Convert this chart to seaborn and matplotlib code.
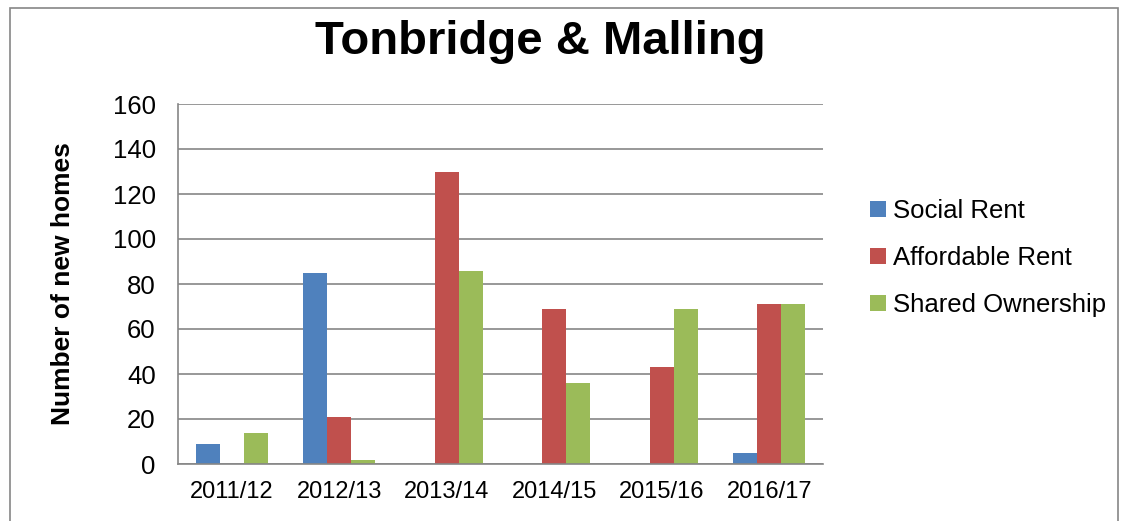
import pandas as pd
import matplotlib
matplotlib.use('Agg')
import matplotlib.pyplot as plt
import seaborn as sns
from matplotlib.patches import Rectangle, Patch

# ── data ─────────────────────────────────────────────────────────────────────
years = ['2011/12', '2012/13', '2013/14', '2014/15', '2015/16', '2016/17']
social_rent = [9, 85, 0, 0, 0, 5]
affordable_rent = [0, 21, 130, 69, 43, 71]
shared_ownership = [14, 2, 86, 36, 69, 71]
series = ['Social Rent', 'Affordable Rent', 'Shared Ownership']
colors = ['#4F81BD', '#C0504D', '#9BBB59']

df = pd.DataFrame({'year': years * 3,
                   'tenure': [s for s in series for _ in years],
                   'homes': social_rent + affordable_rent + shared_ownership})

# ── style ────────────────────────────────────────────────────────────────────
sns.set_style('white')
plt.rcParams['font.family'] = ['Liberation Sans', 'DejaVu Sans']
plt.rcParams['text.color'] = 'black'
plt.rcParams['axes.labelcolor'] = 'black'
plt.rcParams['xtick.color'] = 'black'
plt.rcParams['ytick.color'] = 'black'
grid_col = '#868686'

fig = plt.figure(figsize=(11.22, 5.21), dpi=100)
ax = fig.add_axes([178 / 1122, 1 - 464 / 521, 645 / 1122, 360 / 521])

sns.barplot(data=df, x='year', y='homes', hue='tenure', hue_order=series,
            palette=colors, width=0.67, gap=0, saturation=1, ax=ax,
            legend=False, edgecolor='none', linewidth=0)

ax.set_ylim(0, 160)
ax.set_yticks(range(0, 161, 20))
ax.set_xlim(-0.5, len(years) - 0.5)
ax.yaxis.grid(True, color=grid_col, linewidth=1.2)
ax.set_axisbelow(True)
for side in ['top', 'right']:
    ax.spines[side].set_visible(False)
for side in ['left', 'bottom']:
    ax.spines[side].set_color(grid_col)
    ax.spines[side].set_linewidth(1.2)

# category boundary ticks on x
ax.set_xticks(range(len(years)))
ax.set_xticklabels(years, fontsize=17, color='black')
ax.set_xticks([i - 0.5 for i in range(len(years) + 1)], minor=True)
ax.tick_params(axis='x', which='major', length=0, pad=12, labelcolor='black')
ax.tick_params(axis='x', which='minor', length=7, color=grid_col, width=1.2)
ax.tick_params(axis='y', length=7, color=grid_col, width=1.2, labelsize=18.5,
               pad=9, labelcolor='black')
ax.set_xlabel('')
ax.set_ylabel('Number of new homes', fontsize=19, fontweight='bold', labelpad=27,
              color='black')

fig.text(540 / 1122, 1 - 42 / 521, 'Tonbridge & Malling', ha='center', va='center',
         fontsize=34, fontweight='bold', color='black')

handles = [Patch(facecolor=c, edgecolor='none') for c in colors]
fig.legend(handles, series, loc='center left', bbox_to_anchor=(847 / 1122, 1 - 258 / 521),
           frameon=False, fontsize=18.5, handlelength=0.6, handleheight=0.6,
           handletextpad=0.3, labelspacing=0.9, labelcolor='black')

# outer chart border
fig.patches.append(Rectangle((10 / 1122, -0.01), 1108 / 1122, 1 - 8 / 521 + 0.01,
                             transform=fig.transFigure, fill=False,
                             edgecolor=grid_col, linewidth=1.2))

fig.savefig('out.png', dpi=100, facecolor='white')
